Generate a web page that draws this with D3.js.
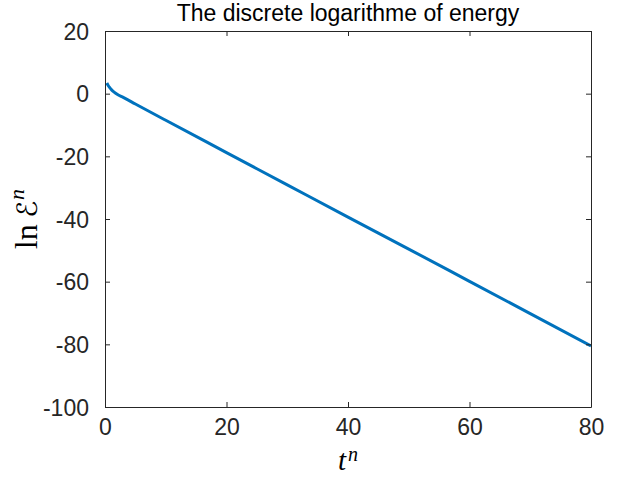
<!DOCTYPE html>
<html>
<head>
<meta charset="utf-8">
<script src="https://cdn.jsdelivr.net/npm/d3@7"></script>
<style>
  html, body { margin: 0; padding: 0; background: #fff; }
  svg { display: block; }
</style>
</head>
<body>
<svg id="chart" width="617" height="479"></svg>
<script>
// ---- data ----
const tValues = [0.3, 0.5, 0.75, 1.0, 1.25, 1.5, 2, 3, 5, 10, 20, 30, 40, 50, 60, 70, 80];
const lnEnergy = [3.4, 2.7, 2.0, 1.4, 0.9, 0.5, -0.2, -1.2, -3.3, -8.5, -18.8, -29.1, -39.4, -49.6, -59.9, -70.2, -80.5];
const xTicks = [0, 20, 40, 60, 80];
const yTicks = [20, 0, -20, -40, -60, -80, -100];
const titleText = "The discrete logarithme of energy";

// ---- layout ----
const svg = d3.select("#chart");
const L = 105, R = 591, T = 31, B = 407;
const axisColor = "#262626";
const lineColor = "#0072BD";

const x = d3.scaleLinear().domain([0, 80]).range([L, R]);
const y = d3.scaleLinear().domain([-100, 20]).range([B, T]);

svg.append("clipPath").attr("id", "clip")
  .append("rect").attr("x", L).attr("y", T).attr("width", R - L).attr("height", B - T);

const line = d3.line().x((d, i) => x(tValues[i])).y(d => y(d)).curve(d3.curveMonotoneX);
svg.append("path")
  .datum(lnEnergy)
  .attr("clip-path", "url(#clip)")
  .attr("fill", "none")
  .attr("stroke", lineColor)
  .attr("stroke-width", 3)
  .attr("stroke-linejoin", "round")
  .attr("d", line);

const tickLen = 5;
const fontTick = "Liberation Sans, Arial, Helvetica, sans-serif";
const fmt = d => String(d);

const xAxisB = d3.axisBottom(x).tickValues(xTicks).tickFormat(fmt).tickSizeInner(-tickLen).tickSizeOuter(0).tickPadding(12);
const gxb = svg.append("g").attr("transform", `translate(0,${B})`).call(xAxisB);
const xAxisT = d3.axisTop(x).tickValues(xTicks).tickSizeInner(-tickLen).tickSizeOuter(0).tickFormat("");
const gxt = svg.append("g").attr("transform", `translate(0,${T})`).call(xAxisT);
const yAxisL = d3.axisLeft(y).tickValues(yTicks).tickFormat(fmt).tickSizeInner(-tickLen).tickSizeOuter(0).tickPadding(16);
const gyl = svg.append("g").attr("transform", `translate(${L},0)`).call(yAxisL);
const yAxisR = d3.axisRight(y).tickValues(yTicks).tickSizeInner(-tickLen).tickSizeOuter(0).tickFormat("");
const gyr = svg.append("g").attr("transform", `translate(${R},0)`).call(yAxisR);

[gxb, gxt, gyl, gyr].forEach(g => {
  g.select(".domain").attr("stroke", axisColor).attr("stroke-width", 1);
  g.selectAll(".tick line").attr("stroke", axisColor).attr("stroke-width", 1);
  g.selectAll(".tick text")
    .attr("fill", axisColor)
    .style("font-family", fontTick)
    .style("font-size", "23px");
});
gyl.selectAll(".tick text").attr("dy", "0.35em");

// title
svg.append("text")
  .attr("x", (L + R) / 2)
  .attr("y", 21)
  .attr("text-anchor", "middle")
  .attr("fill", "#000")
  .style("font-family", fontTick)
  .style("font-size", "23px")
  .text(titleText);

// x label: t^n
const xl = svg.append("text")
  .attr("x", (L + R) / 2)
  .attr("y", 470)
  .attr("text-anchor", "middle")
  .attr("fill", "#000")
  .style("font-family", "Liberation Serif, serif")
  .style("font-size", "29px");
xl.append("tspan").style("font-style", "italic").text("t");
xl.append("tspan").style("font-style", "italic").style("font-size", "20px")
  .attr("dx", 2).attr("dy", -9).text("n");

// y label: ln E^n
const yl = svg.append("text")
  .attr("transform", `translate(37,${(T + B) / 2}) rotate(-90)`)
  .attr("text-anchor", "middle")
  .attr("fill", "#000")
  .style("font-family", "Liberation Serif, serif")
  .style("font-size", "32px");
yl.append("tspan").text("ln\u2009");
yl.append("tspan").style("font-family", "DejaVu Sans, sans-serif").style("font-size", "28px").text("\u2130");
yl.append("tspan").style("font-style", "italic").style("font-size", "22px")
  .attr("dx", 1).attr("dy", -13).text("n");
</script>
</body>
</html>
